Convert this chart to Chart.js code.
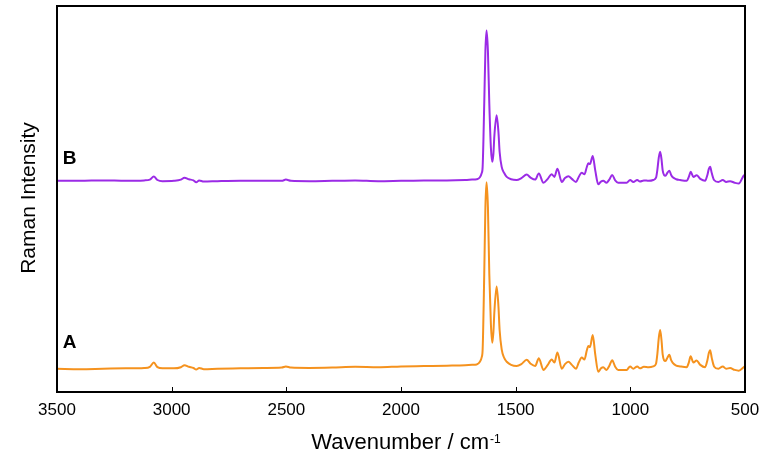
<!DOCTYPE html>
<html>
<head>
<meta charset="utf-8">
<script src="https://cdn.jsdelivr.net/npm/chart.js@4/dist/chart.umd.min.js"></script>
<style>
  body { margin: 0; background: #fff; }
</style>
</head>
<body>
<canvas id="myChart" width="764" height="455"></canvas>
<script>
// wavenumbers (cm-1) shared by both spectra
const wavenumbers = [
    3500, 3400, 3300, 3200, 3120, 3095, 3078, 3062, 3040, 2990,
    2960, 2944, 2925, 2905, 2893, 2880, 2860, 2800, 2700, 2600,
    2520, 2502, 2480, 2400, 2300, 2200, 2100, 2000, 1900, 1800,
    1720, 1690, 1670, 1656, 1648, 1644, 1637, 1632, 1627, 1621,
    1615, 1608, 1602, 1597, 1593, 1583, 1575, 1570, 1561, 1550,
    1539, 1520, 1496, 1475, 1452, 1435, 1415, 1399, 1379, 1360,
    1343, 1331, 1318, 1299, 1285, 1270, 1255, 1237, 1225, 1212,
    1200, 1190, 1183, 1176, 1164, 1153, 1140, 1128, 1118, 1104,
    1092, 1079, 1066, 1053, 1016, 1001, 987, 970, 958, 941,
    920, 900, 888, 882, 876, 870, 864, 859, 853, 847,
    838, 830, 822, 815, 800, 783, 754, 745, 737, 725,
    711, 695, 674, 664, 658, 652, 645, 635, 616, 597,
    582, 565, 545, 527, 506, 500];

// spectrum A (lower, orange)
const spectrumA = [
    7.0, 6.9, 7.0, 7.1, 7.2, 7.5, 8.6, 7.4, 7.1, 7.1,
    7.4, 7.9, 7.5, 7.2, 6.8, 7.2, 6.9, 7.0, 7.1, 7.2,
    7.3, 7.6, 7.3, 7.2, 7.3, 7.5, 7.4, 7.6, 7.7, 7.8,
    7.9, 8.0, 8.1, 8.8, 10.0, 12.0, 31.5, 48.7, 55.1, 48.7,
    31.5, 18.5, 13.7, 16.5, 21.5, 28.2, 23, 17, 12.0, 9.8,
    8.8, 8.0, 7.7, 8.2, 9.3, 8.3, 7.7, 9.7, 6.7, 8.0,
    9.4, 8.6, 11.2, 7.0, 8.2, 8.8, 8.0, 7.0, 8.6, 9.9,
    9.4, 11.7, 12.9, 12.6, 15.7, 10.7, 6.2, 7.1, 7.4, 6.7,
    7.7, 9.2, 7.5, 6.7, 6.7, 7.6, 7.0, 7.6, 7.1, 7.5,
    7.4, 7.6, 8.3, 10.9, 14.9, 17.0, 14.3, 10.7, 9.2, 9.0,
    9.9, 10.6, 9.2, 8.5, 7.8, 7.6, 7.4, 8.6, 10.2, 8.6,
    9.1, 8.0, 7.4, 9.2, 11.0, 11.8, 9.8, 7.6, 7.0, 7.6,
    7.0, 7.2, 6.7, 6.5, 7.4, 7.7];

// spectrum B (upper, purple)
const spectrumB = [
    55.5, 55.5, 55.6, 55.5, 55.6, 55.8, 56.6, 55.7, 55.4, 55.5,
    55.8, 56.3, 55.9, 55.6, 55.1, 55.6, 55.3, 55.4, 55.5, 55.5,
    55.5, 55.8, 55.5, 55.4, 55.5, 55.6, 55.4, 55.5, 55.6, 55.6,
    55.7, 55.8, 55.9, 56.4, 57.5, 59.1, 75.5, 89, 94.3, 89,
    75.5, 64, 60.4, 62.5, 67, 72.4, 68, 63, 59.1, 57.5,
    56.5, 55.9, 55.7, 56.2, 57.1, 56.3, 55.8, 57.4, 55.0, 56.0,
    57.2, 56.5, 58.6, 55.2, 56.2, 56.7, 56.0, 55.2, 56.5, 57.6,
    57.2, 59.0, 60.0, 59.8, 61.9, 58.2, 54.6, 55.3, 55.5, 55.0,
    55.8, 57.0, 55.6, 55.0, 55.0, 55.7, 55.2, 55.7, 55.3, 55.6,
    55.5, 55.7, 56.3, 58.4, 61.5, 63.0, 61.0, 58.2, 57.0, 56.8,
    57.6, 58.1, 57.0, 56.4, 55.9, 55.7, 55.5, 56.5, 57.8, 56.5,
    56.9, 56.0, 55.5, 57.0, 58.5, 59.1, 57.5, 55.7, 55.2, 55.7,
    55.2, 55.4, 55.0, 54.8, 56.8, 57.0];

const xTicks = [3500, 3000, 2500, 2000, 1500, 1000, 500];
const seriesNames = ['A', 'B'];
const labelX = [3445, 3445];
const labelY = [13.7, 61.3];

const FONT = '"Liberation Sans", Arial, sans-serif';

const toPoints = (ys) => wavenumbers.map((w, i) => ({ x: w, y: ys[i] }));

// frame, inward ticks, axis titles and the A/B labels
const extras = {
    id: 'extras',
    afterDraw(chart) {
        const ctx = chart.ctx;
        const area = chart.chartArea;
        const xs = chart.scales.x;
        const ys = chart.scales.y;
        ctx.save();
        ctx.strokeStyle = '#000';
        ctx.lineWidth = 2;
        ctx.strokeRect(area.left, area.top, area.right - area.left, area.bottom - area.top);
        ctx.lineWidth = 1;
        xTicks.slice(1, -1).forEach(t => {
            const px = Math.round(xs.getPixelForValue(t)) + 0.5;
            ctx.beginPath();
            ctx.moveTo(px, area.bottom);
            ctx.lineTo(px, area.bottom - 5);
            ctx.stroke();
        });

        ctx.fillStyle = '#000';
        ctx.font = 'bold 19px ' + FONT;
        ctx.textAlign = 'center';
        ctx.textBaseline = 'middle';
        seriesNames.forEach((n, i) => {
            ctx.fillText(n, xs.getPixelForValue(labelX[i]), ys.getPixelForValue(labelY[i]));
        });

        // x title with superscript
        const main = 'Wavenumber / cm';
        const sup = '-1';
        ctx.font = '22px ' + FONT;
        const wMain = ctx.measureText(main).width;
        ctx.font = '12px ' + FONT;
        const wSup = ctx.measureText(sup).width;
        const cx = (area.left + area.right) / 2 + 5;
        const x0 = cx - (wMain + wSup + 1) / 2;
        ctx.textAlign = 'left';
        ctx.textBaseline = 'alphabetic';
        ctx.font = '22px ' + FONT;
        ctx.fillText(main, x0, 449);
        ctx.font = '12px ' + FONT;
        ctx.fillText(sup, x0 + wMain + 1, 443);

        // y title
        ctx.translate(35, (area.top + area.bottom) / 2 - 1);
        ctx.rotate(-Math.PI / 2);
        ctx.textAlign = 'center';
        ctx.font = '21px ' + FONT;
        ctx.fillText('Raman Intensity', 0, 0);
        ctx.restore();
    }
};

new Chart(document.getElementById('myChart').getContext('2d'), {
    type: 'line',
    data: {
        datasets: [
            {
                label: 'A',
                data: toPoints(spectrumA),
                borderColor: '#f5921e',
                borderWidth: 2,
                pointRadius: 0,
                cubicInterpolationMode: 'monotone',
                fill: false
            },
            {
                label: 'B',
                data: toPoints(spectrumB),
                borderColor: '#9b2be6',
                borderWidth: 2,
                pointRadius: 0,
                cubicInterpolationMode: 'monotone',
                fill: false
            }
        ]
    },
    options: {
        responsive: false,
        devicePixelRatio: 1,
        animation: false,
        layout: { padding: { top: 6, right: 19, left: 0, bottom: 0 } },
        plugins: {
            legend: { display: false },
            tooltip: { enabled: false }
        },
        scales: {
            x: {
                type: 'linear',
                reverse: true,
                min: 500,
                max: 3500,
                afterBuildTicks: (s) => { s.ticks = xTicks.map(v => ({ value: v })); },
                afterFit: (s) => {
                    s.height = 63;
                    s.paddingLeft = 0;
                    s.paddingRight = 0;
                },
                ticks: {
                    color: '#000',
                    font: { family: FONT, size: 17 },
                    padding: 8,
                    maxRotation: 0,
                    callback: (v) => String(v)
                },
                grid: { display: true, drawOnChartArea: false, drawTicks: false },
                border: { display: true, color: '#000', width: 2 },
                title: { display: false }
            },
            y: {
                min: 1.0,
                max: 100.6,
                afterFit: (s) => { s.width = 57; },
                ticks: { display: false },
                grid: { display: false },
                border: { display: true, color: '#000', width: 2 },
                title: { display: false }
            }
        }
    },
    plugins: [extras]
});
</script>
</body>
</html>
